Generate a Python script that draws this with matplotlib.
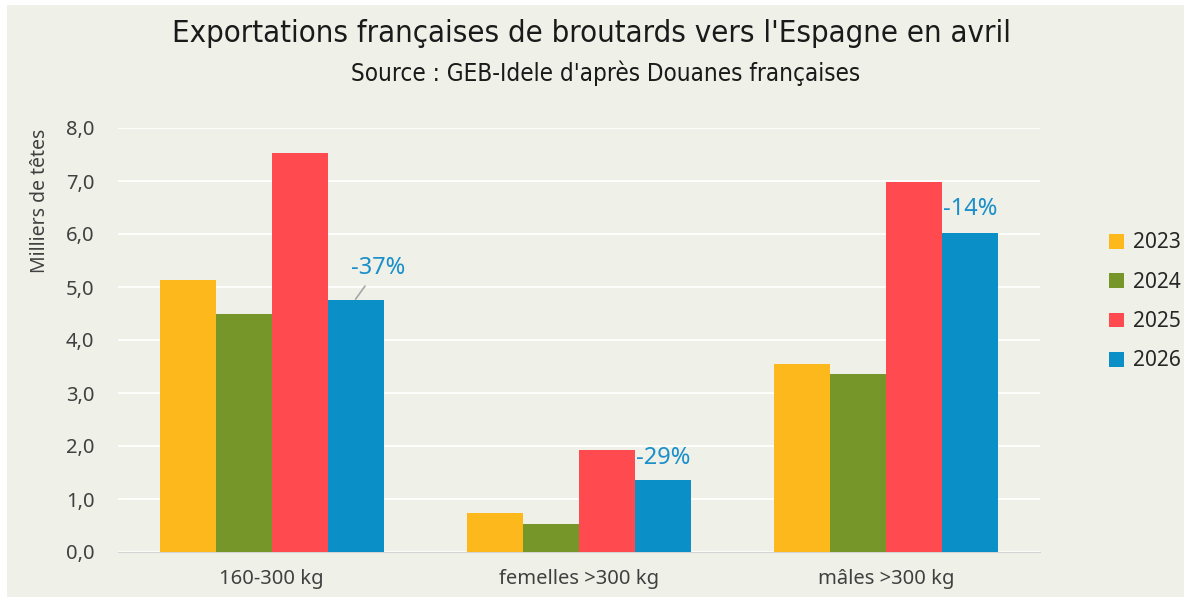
import numpy as np
import matplotlib.pyplot as plt
from matplotlib.patches import Rectangle

categories = ['160-300 kg', 'femelles >300 kg', 'mâles >300 kg']
years = ['2023', '2024', '2025', '2026']
v2023 = [5.13, 0.74, 3.54]
v2024 = [4.49, 0.53, 3.36]
v2025 = [7.53, 1.92, 6.98]
v2026 = [4.75, 1.36, 6.02]
variations = ['-37%', '-29%', '-14%']

colors = ['#FDB91B', '#77962A', '#FF4A4F', '#0A8FC6']
bg = '#EFF0E8'

plt.rcParams['font.family'] = ['Noto Sans', 'DejaVu Sans']

fig = plt.figure(figsize=(11.84, 5.97), dpi=100)
fig.patch.set_facecolor('white')
# fond beige du graphique
fig.patches.append(Rectangle((7/1184, 0), 1 - 7/1184, 1 - 5/597, transform=fig.transFigure,
                             facecolor=bg, edgecolor='none', zorder=-10))

ax = fig.add_axes([118/1184, 1 - 552/597, 922/1184, 424/597])
ax.set_facecolor(bg)

x = np.arange(len(categories))
w = 0.182
series = [v2023, v2024, v2025, v2026]
for i, (vals, c, lab) in enumerate(zip(series, colors, years)):
    ax.bar(x + (i - 1.5) * w, vals, width=w, color=c, label=lab, zorder=3)

ax.set_xlim(-0.5, 2.5)
ax.set_ylim(0, 8)
ax.set_yticks(np.arange(0, 9, 1))
ax.set_yticklabels([f'{v:.1f}'.replace('.', ',') for v in np.arange(0, 9, 1)])
ax.grid(axis='y', color='white', linewidth=1.3, zorder=0)
ax.set_xticks(x)
ax.set_xticklabels(categories)
for s in ['top', 'right', 'left']:
    ax.spines[s].set_visible(False)
ax.spines['bottom'].set_color('#D4D4D4')
ax.tick_params(axis='both', length=0, labelsize=14.5, colors='#404040')
ax.tick_params(axis='x', pad=12)
ax.tick_params(axis='y', pad=17)

# étiquettes de variation 2026 / 2025
lab_col = '#1A8FC9'
xs = x + 1.5 * w
ax.annotate(variations[0], xy=(xs[0], v2026[0] + 0.02), xytext=(xs[0] + 0.073, v2026[0] + 0.61),
            ha='center', va='center', fontsize=17, color=lab_col,
            arrowprops=dict(arrowstyle='-', color='#A6A6A6', lw=1.2, shrinkA=3, shrinkB=0))
ax.text(xs[1], v2026[1] + 0.41, variations[1], ha='center', va='center', fontsize=17, color=lab_col)
ax.text(xs[2], v2026[2] + 0.45, variations[2], ha='center', va='center', fontsize=17, color=lab_col)

fig.text(40/1184, 1 - 201/597, 'Milliers de têtes', rotation=90, ha='center', va='center',
         fontsize=14, color='#404040')

fig.text(591/1184, 1 - 33/597, "Exportations françaises de broutards vers l'Espagne en avril",
         ha='center', va='center', fontsize=22.3, color='#1A1A1A', fontstretch='condensed',
         family=['DejaVu Sans'])
fig.text(606/1184, 1 - 73/597, "Source : GEB-Idele d'après Douanes françaises",
         ha='center', va='center', fontsize=17.4, color='#1A1A1A', fontstretch='condensed',
         family=['DejaVu Sans'])

leg = fig.legend(loc='center left', bbox_to_anchor=(1109/1184, 1 - 302/597), frameon=False,
                 fontsize=15, handlelength=0.7, handleheight=0.7, handletextpad=0.45,
                 labelspacing=0.88, labelcolor='#262626', borderpad=0, borderaxespad=0)

fig.savefig('out.png', dpi=100, facecolor=fig.get_facecolor())
